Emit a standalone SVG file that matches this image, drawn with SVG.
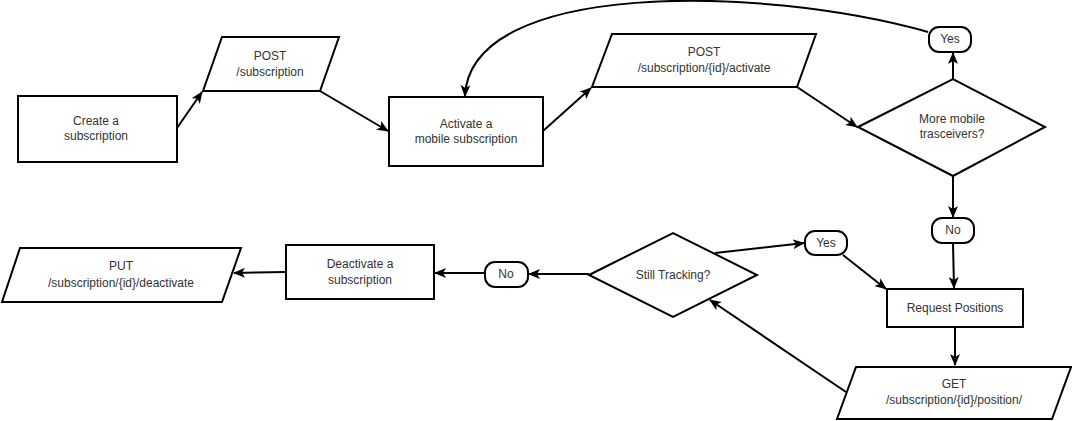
<svg xmlns="http://www.w3.org/2000/svg" width="1072" height="421" viewBox="0 0 1072 421">
<style>
.s{fill:#ffffff;stroke:#000000;stroke-width:2}
.t{font-family:"Liberation Sans",Arial,Helvetica,sans-serif;font-size:12px;fill:#333333;text-anchor:middle;dominant-baseline:central}
.c{fill:none;stroke:#000000;stroke-width:2;marker-end:url(#arr)}
</style>
<defs>
<marker id="arr" markerUnits="userSpaceOnUse" viewBox="0 0 12 10" markerWidth="12" markerHeight="10" refX="11" refY="5" orient="auto">
<path d="M0,0 L12,5 L0,10 L3,5 Z" fill="#000000"/>
</marker>
</defs>
<rect width="1072" height="421" fill="#ffffff"/>
<g id="connectors">
<path class="c" d="M177,128 L202,92"/>
<path class="c" d="M320,91 L388,131"/>
<path class="c" d="M543,131 L591,88"/>
<path class="c" d="M797,87 L857,127"/>
<path class="c" d="M953,79 L953,53"/>
<path class="c" d="M928,32 C760,-15 470,-20 465,96"/>
<path class="c" d="M953,176 L953,217"/>
<path class="c" d="M953,243 L954,288"/>
<path class="c" d="M955,327 L955,365"/>
<path class="c" d="M846,392 L710,300"/>
<path class="c" d="M715,253 L804,243"/>
<path class="c" d="M843,255 L886,289"/>
<path class="c" d="M589,274 L529,274"/>
<path class="c" d="M485,273 L435,273"/>
<path class="c" d="M286,272 L234,273"/>
</g>
<g id="create">
<rect class="s" x="18" y="96" width="159" height="66"/>
<text class="t" x="96" y="121">Create a</text>
<text class="t" x="96" y="136">subscription</text>
</g>
<g id="post-subscription">
<polygon class="s" points="222,37 339,37 320,91 203,91"/>
<text class="t" x="270" y="56">POST</text>
<text class="t" x="270" y="72">/subscription</text>
</g>
<g id="activate">
<rect class="s" x="389" y="97" width="154" height="69"/>
<text class="t" x="466" y="124">Activate a</text>
<text class="t" x="466" y="139">mobile subscription</text>
</g>
<g id="post-activate">
<polygon class="s" points="612,34 816,34 797,87 592,87"/>
<text class="t" x="704" y="52">POST</text>
<text class="t" x="704" y="68">/subscription/{id}/activate</text>
</g>
<g id="more-mobile">
<polygon class="s" points="858,127 953,79 1045,127 953,176"/>
<text class="t" x="952" y="119">More mobile</text>
<text class="t" x="952" y="134">trasceivers?</text>
</g>
<g id="yes-top">
<rect class="s" x="929" y="27" width="42" height="25" rx="10"/>
<text class="t" x="950" y="39">Yes</text>
</g>
<g id="no-right">
<rect class="s" x="932" y="218" width="42" height="25" rx="10"/>
<text class="t" x="953" y="230">No</text>
</g>
<g id="request-positions">
<rect class="s" x="887" y="289" width="136" height="38"/>
<text class="t" x="955" y="308">Request Positions</text>
</g>
<g id="get-position">
<polygon class="s" points="856,367 1071,367 1052,419 837,419"/>
<text class="t" x="954" y="384">GET</text>
<text class="t" x="954" y="400">/subscription/{id}/position/</text>
</g>
<g id="still-tracking">
<polygon class="s" points="589,275 673,233 757,275 673,317"/>
<text class="t" x="673" y="275">Still Tracking?</text>
</g>
<g id="yes-bottom">
<rect class="s" x="805" y="231" width="42" height="24" rx="10"/>
<text class="t" x="826" y="243">Yes</text>
</g>
<g id="no-left">
<rect class="s" x="485" y="262" width="43" height="25" rx="10"/>
<text class="t" x="506" y="274">No</text>
</g>
<g id="deactivate">
<rect class="s" x="286" y="245" width="148" height="54"/>
<text class="t" x="360" y="264">Deactivate a</text>
<text class="t" x="360" y="280">subscription</text>
</g>
<g id="put-deactivate">
<polygon class="s" points="20,248 241,248 222,302 2,302"/>
<text class="t" x="121" y="266">PUT</text>
<text class="t" x="121" y="283">/subscription/{id}/deactivate</text>
</g>
</svg>
